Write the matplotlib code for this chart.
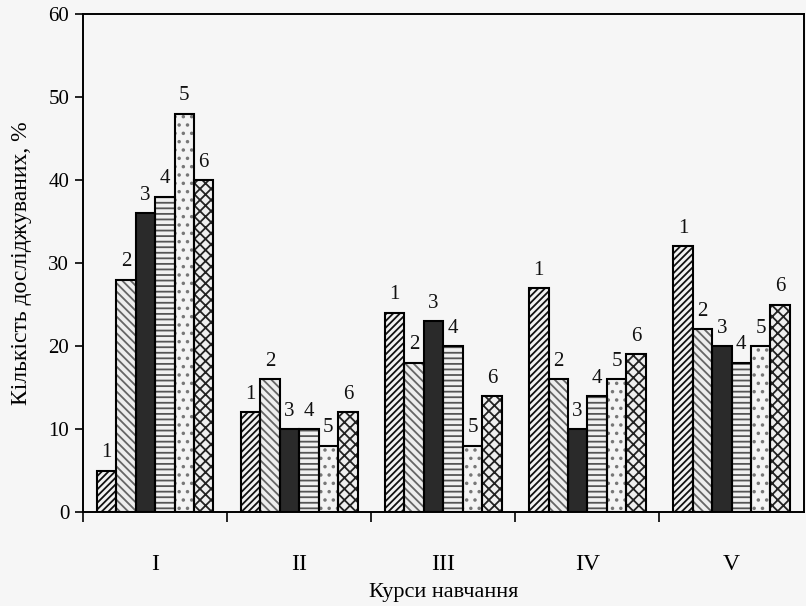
import matplotlib
matplotlib.use("Agg")
import matplotlib.pyplot as plt
import numpy as np

courses = ["I", "II", "III", "IV", "V"]
series_labels = ["1", "2", "3", "4", "5", "6"]
s1 = [5, 12, 24, 27, 32]
s2 = [28, 16, 18, 16, 22]
s3 = [36, 10, 23, 10, 20]
s4 = [38, 10, 20, 14, 18]
s5 = [48, 8, 8, 16, 20]
s6 = [40, 12, 14, 19, 25]
yticks = [0, 10, 20, 30, 40, 50, 60]

series = [s1, s2, s3, s4, s5, s6]
styles = [
    dict(face="#f2f2f2", hatch="/////", hc="#111111"),
    dict(face="#eeeeee", hatch="\\\\\\\\", hc="#666666"),
    dict(face="#2a2a2a", hatch=None, hc="#2a2a2a"),
    dict(face="#f0f0f0", hatch="---", hc="#555555"),
    dict(face="#f4f4f4", hatch="..", hc="#777777"),
    dict(face="#efefef", hatch="xxx", hc="#222222"),
]

plt.rcParams["font.family"] = ["Liberation Serif", "DejaVu Serif"]
plt.rcParams["hatch.linewidth"] = 1.3

fig = plt.figure(figsize=(8.06, 6.06), dpi=100, facecolor="#f6f6f6")
ax = fig.add_axes([0.103, 0.155, 0.894, 0.822])
ax.set_facecolor("#f6f6f6")

x = np.arange(1, len(courses) + 1)
w = 0.135
for i, (vals, st) in enumerate(zip(series, styles)):
    pos = x + (i - 2.5) * w
    if st["hatch"]:
        ax.bar(pos, vals, w, color=st["face"], hatch=st["hatch"],
               edgecolor=st["hc"], linewidth=0, zorder=2)
    else:
        ax.bar(pos, vals, w, color=st["face"], linewidth=0, zorder=2)
    ax.bar(pos, vals, w, fill=False, edgecolor="black", linewidth=1.5, zorder=3)
    for px, v in zip(pos, vals):
        ax.annotate(series_labels[i], (px, v), xytext=(0, 6),
                    textcoords="offset points", ha="center", va="bottom",
                    fontsize=15, color="#111111")

ax.set_xlim(0.5, 5.5)
ax.set_ylim(0, 60)
ax.set_yticks(yticks)
ax.tick_params(axis="y", direction="out", length=6, width=1.2,
               labelsize=15, pad=4)
ax.set_xticks(x)
ax.set_xticklabels(courses)
ax.tick_params(axis="x", which="major", length=0, labelsize=17, pad=30)
ax.set_xticks(np.arange(0.5, 5.0, 1.0), minor=True)
ax.tick_params(axis="x", which="minor", direction="out", length=7, width=1.2)

for sp in ax.spines.values():
    sp.set_linewidth(1.4)

ax.set_ylabel("Кількість досліджуваних, %", fontsize=17, labelpad=12)
ax.set_xlabel("Курси навчання", fontsize=16, labelpad=6)

fig.savefig("out.png", dpi=100, facecolor=fig.get_facecolor())
